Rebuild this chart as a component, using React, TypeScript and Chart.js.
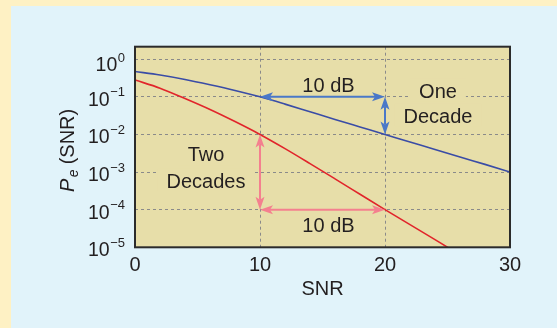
import { useEffect, useRef } from "react";
import { Chart, registerables } from "chart.js";

Chart.register(...registerables);

// Error probability versus SNR (dB) for the two receivers
const snrBlue = [0, 2, 4, 6, 8, 10, 12, 14, 16, 18, 20, 22, 24, 26, 28, 30];
const peBlue = [0.47, 0.38, 0.29, 0.21, 0.148, 0.1, 0.064, 0.04, 0.025, 0.0158, 0.01, 0.0063, 0.004, 0.0025, 0.0016, 0.001];
const snrRed = [0, 2, 4, 6, 8, 10, 12, 14, 16, 18, 20, 22, 24, 26];
const peRed = [0.28, 0.17, 0.09, 0.046, 0.022, 0.01, 0.0042, 0.00168, 0.00066, 0.000257, 0.0001, 0.00004, 0.000016, 0.0000063];

// Axes
const xTicks = [0, 10, 20, 30];
const xGridLines = [10, 20];
const yExponents = [0, -1, -2, -3, -4, -5];
const yMin = 1e-5;
const yMax = 2.15;

// 10 dB steps marked on each curve
const blueStep = { from: 10, to: 20, high: 0.1, low: 0.01 };
const redStep = { from: 10, to: 20, high: 0.01, low: 0.0001 };

const FONT = "'Liberation Sans', Arial, Helvetica, sans-serif";
const INK = "#231f20";
const PLOT_BG = "#e7dea9";
const GRID = "#8a8a8a";
const BLUE_LINE = "#3a4ca6";
const RED_LINE = "#e1252b";
const BLUE_ARROW = "#4a78c8";
const PINK_ARROW = "#f4808f";

const crisp = (v: number) => Math.round(v - 0.5) + 0.5;

function arrowHead(ctx: CanvasRenderingContext2D, x: number, y: number, ang: number) {
  const L = 13, W = 4.5, N = 3;
  ctx.save();
  ctx.translate(x, y);
  ctx.rotate(ang);
  ctx.beginPath();
  ctx.moveTo(0, 0);
  ctx.lineTo(-L, -W);
  ctx.lineTo(-L + N, 0);
  ctx.lineTo(-L, W);
  ctx.closePath();
  ctx.fill();
  ctx.restore();
}

function doubleArrow(ctx: CanvasRenderingContext2D, x1: number, y1: number, x2: number, y2: number, color: string) {
  const ang = Math.atan2(y2 - y1, x2 - x1);
  const c = Math.cos(ang), s = Math.sin(ang);
  const inset = 10;
  ctx.save();
  ctx.strokeStyle = color;
  ctx.fillStyle = color;
  ctx.lineWidth = 2;
  ctx.beginPath();
  ctx.moveTo(x1 + c * inset, y1 + s * inset);
  ctx.lineTo(x2 - c * inset, y2 - s * inset);
  ctx.stroke();
  arrowHead(ctx, x2, y2, ang);
  arrowHead(ctx, x1, y1, ang + Math.PI);
  ctx.restore();
}

type Block = { lines: string[]; cx: number; base: number; gap: number; patch: boolean };

function blockLayout(chart: any): Block[] {
  const { x, y } = chart.scales;
  const bx1 = x.getPixelForValue(blueStep.from);
  const bx2 = x.getPixelForValue(blueStep.to);
  const rx1 = x.getPixelForValue(redStep.from);
  const rx2 = x.getPixelForValue(redStep.to);
  const byHigh = y.getPixelForValue(blueStep.high);
  const ryLow = y.getPixelForValue(redStep.low);
  const ryHigh = y.getPixelForValue(redStep.high);
  return [
    { lines: [`${blueStep.to - blueStep.from} dB`], cx: (bx1 + bx2) / 2 + 6, base: byHigh - 5, gap: 0, patch: false },
    { lines: [`${redStep.to - redStep.from} dB`], cx: (rx1 + rx2) / 2 + 6, base: ryLow + 22, gap: 0, patch: false },
    { lines: ["One", "Decade"], cx: bx2 + 53, base: byHigh + 1, gap: 25, patch: true },
    { lines: ["Two", "Decades"], cx: rx1 - 54, base: ryHigh + 27, gap: 26.5, patch: true },
  ];
}

const decor = {
  id: "decor",
  beforeDatasetsDraw(chart: any) {
    const { ctx, chartArea: a, scales: { x, y } } = chart;
    ctx.save();
    ctx.fillStyle = PLOT_BG;
    ctx.fillRect(a.left, a.top, a.right - a.left, a.bottom - a.top);

    ctx.strokeStyle = GRID;
    ctx.lineWidth = 1;
    ctx.setLineDash([3, 3]);
    for (const e of yExponents) {
      const v = Math.pow(10, e);
      if (v <= yMin) continue;
      const py = crisp(y.getPixelForValue(v));
      ctx.beginPath();
      ctx.moveTo(a.left, py);
      ctx.lineTo(a.right, py);
      ctx.stroke();
    }
    for (const v of xGridLines) {
      const px = crisp(x.getPixelForValue(v));
      ctx.beginPath();
      ctx.moveTo(px, a.top);
      ctx.lineTo(px, a.bottom);
      ctx.stroke();
    }
    ctx.setLineDash([]);

    // clear the dashes behind the text blocks
    ctx.font = `20px ${FONT}`;
    ctx.fillStyle = PLOT_BG;
    for (const b of blockLayout(chart)) {
      if (!b.patch) continue;
      b.lines.forEach((t, i) => {
        const w = ctx.measureText(t).width;
        const base = b.base + i * b.gap;
        ctx.fillRect(b.cx - w / 2 - 9, base - 19, w + 18, 23);
      });
    }
    ctx.restore();
  },
  afterDatasetsDraw(chart: any) {
    const { ctx, chartArea: a, scales: { x, y } } = chart;
    ctx.save();

    // step arrows
    const bx1 = x.getPixelForValue(blueStep.from);
    const bx2 = x.getPixelForValue(blueStep.to);
    const byH = y.getPixelForValue(blueStep.high);
    const byL = y.getPixelForValue(blueStep.low);
    doubleArrow(ctx, bx1, byH, bx2, byH, BLUE_ARROW);
    doubleArrow(ctx, bx2, byH, bx2, byL, BLUE_ARROW);

    const rx1 = x.getPixelForValue(redStep.from);
    const rx2 = x.getPixelForValue(redStep.to);
    const ryH = y.getPixelForValue(redStep.high);
    const ryL = y.getPixelForValue(redStep.low);
    doubleArrow(ctx, rx1, ryH, rx1, ryL, PINK_ARROW);
    doubleArrow(ctx, rx1, ryL, rx2, ryL, PINK_ARROW);

    // annotation text
    ctx.fillStyle = INK;
    ctx.font = `20px ${FONT}`;
    ctx.textAlign = "center";
    ctx.textBaseline = "alphabetic";
    for (const b of blockLayout(chart)) {
      b.lines.forEach((t, i) => ctx.fillText(t, b.cx, b.base + i * b.gap));
    }

    // frame
    ctx.strokeStyle = "#2b2b2b";
    ctx.lineWidth = 2;
    ctx.strokeRect(a.left, a.top, a.right - a.left, a.bottom - a.top);

    // y tick labels: 10 with superscript exponent
    const right = a.left - 10;
    ctx.textAlign = "right";
    for (const e of yExponents) {
      const base = y.getPixelForValue(Math.pow(10, e)) + (e === 0 ? 12 : 9);
      const sup = e < 0 ? "\u2212" + String(-e) : String(e);
      ctx.font = `13px ${FONT}`;
      const sw = ctx.measureText(sup).width;
      ctx.fillText(sup, right, base - 9.5);
      ctx.font = `19.5px ${FONT}`;
      ctx.fillText("10", right - sw - 0.5, base);
    }

    // y axis title: P_e (SNR)
    ctx.save();
    ctx.translate(62.5, (a.top + a.bottom) / 2 + 45);
    ctx.rotate(-Math.PI / 2);
    ctx.textAlign = "left";
    ctx.font = `italic 20px ${FONT}`;
    ctx.fillText("P", 0, 0);
    let cx = ctx.measureText("P").width + 1.5;
    ctx.font = `italic 14px ${FONT}`;
    ctx.fillText("e", cx, 4);
    cx += ctx.measureText("e").width + 5;
    ctx.font = `20px ${FONT}`;
    ctx.fillText("(SNR)", cx, 0);
    ctx.restore();

    ctx.restore();
  },
};

export default function App() {
  const ref = useRef<HTMLCanvasElement>(null);

  useEffect(() => {
    if (!ref.current) return;
    const chart = new Chart(ref.current, {
      type: "line",
      data: {
        datasets: [
          {
            data: snrBlue.map((v, i) => ({ x: v, y: peBlue[i] })),
            borderColor: BLUE_LINE,
            borderWidth: 1.6,
            pointRadius: 0,
            cubicInterpolationMode: "monotone",
          },
          {
            data: snrRed.map((v, i) => ({ x: v, y: peRed[i] })),
            borderColor: RED_LINE,
            borderWidth: 1.6,
            pointRadius: 0,
            cubicInterpolationMode: "monotone",
          },
        ],
      },
      options: {
        animation: false,
        responsive: false,
        layout: { padding: { top: 40.7, right: 47, left: 0, bottom: 0 } },
        plugins: { legend: { display: false }, tooltip: { enabled: false } },
        scales: {
          x: {
            type: "linear",
            min: xTicks[0],
            max: xTicks[xTicks.length - 1],
            afterBuildTicks: (s: any) => {
              s.ticks = xTicks.map((v) => ({ value: v }));
            },
            afterFit: (s: any) => {
              s.height = 80.7;
            },
            grid: { display: false, drawTicks: false },
            border: { display: false },
            ticks: {
              padding: 6,
              color: INK,
              font: { family: FONT, size: 20 },
              maxRotation: 0,
            },
            title: {
              display: true,
              text: "SNR",
              color: INK,
              font: { family: FONT, size: 20 },
              padding: { top: 0, bottom: 27 },
            },
          },
          y: {
            type: "logarithmic",
            min: yMin,
            max: yMax,
            afterFit: (s: any) => {
              s.width = 124;
            },
            grid: { display: false, drawTicks: false },
            border: { display: false },
            ticks: { display: false },
          },
        },
      },
      plugins: [decor],
    });
    return () => chart.destroy();
  }, []);

  return (
    <div
      style={{
        position: "fixed",
        left: 0,
        top: 0,
        width: 557,
        height: 328,
        background: "#fef1c4",
        overflow: "hidden",
      }}
    >
      <div
        style={{
          position: "absolute",
          left: 11,
          top: 6,
          width: 546,
          height: 322,
          background: "#e1f3fa",
        }}
      >
        <canvas ref={ref} width={546} height={322} style={{ display: "block" }} />
      </div>
    </div>
  );
}
